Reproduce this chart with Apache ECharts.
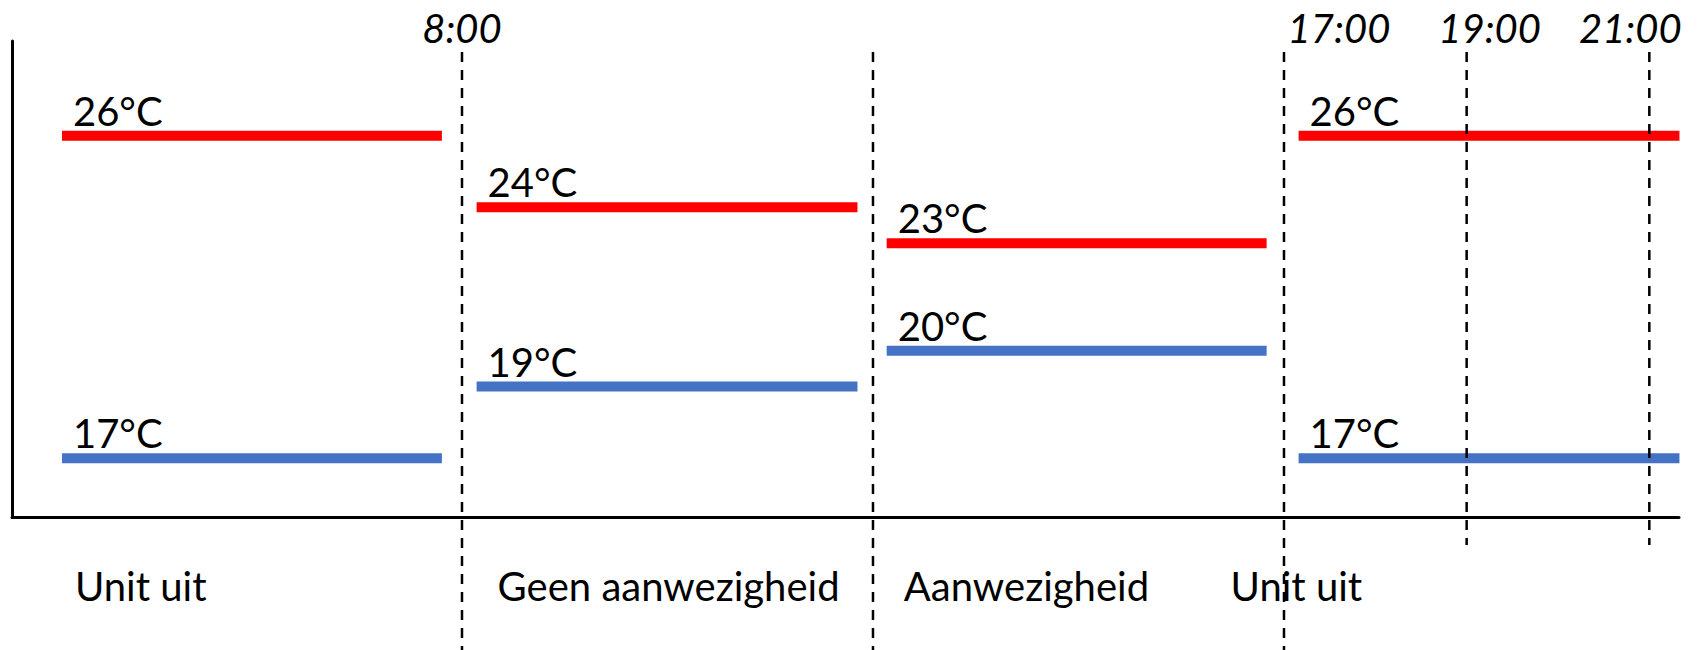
<!DOCTYPE html>
<html>
<head>
<meta charset="utf-8">
<title>Unit uit / aanwezigheid</title>
<script src="https://cdn.jsdelivr.net/npm/echarts@6/dist/echarts.min.js"></script>
<style>
    html, body { margin: 0; padding: 0; background: #ffffff; }
    #chart { width: 1704px; height: 650px; }
</style>
</head>
<body>
<div id="chart"></div>
<script>
// phases of the day
var phaseNames = ['Unit uit', 'Geen aanwezigheid', 'Aanwezigheid', 'Unit uit'];
// each setpoint bar runs from segFrom to segTo (hours)
var segFrom = [3.62, 8.16, 12.65, 17.16];
var segTo = [7.78, 12.33, 16.81, 21.33];
var heatTemps = [26, 24, 23, 26];   // red, upper setpoint
var coolTemps = [17, 19, 20, 17];   // blue, lower setpoint
// dashed time marks
var boundaryHours = [8, 12.5, 17];
var clockHours = [19, 21];
var timeLabelHours = [8, 17, 19, 21];
var timeLabels = ['8:00', '17:00', '19:00', '21:00'];

var FONT = "'Lato', 'Open Sans', sans-serif";
var RED = '#ff0000';
var BLUE = '#4472c4';

// label nudges (px), the source sets them by hand
var timeLabelDx = [0, 55, 23, -19];
var phaseLabelDx = [13, 21, 17, -68];

var chart = echarts.init(document.getElementById('chart'), null, { renderer: 'svg' });

function rows(temps) {
    var out = [];
    for (var i = 0; i < temps.length; i++) {
        out.push([segFrom[i], segTo[i], temps[i]]);
    }
    return out;
}

function segmentSeries(name, temps, color) {
    return {
        name: name,
        type: 'custom',
        data: rows(temps),
        encode: { x: [0, 1], y: 2 },
        z: 2,
        renderItem: function (params, api) {
            var a = api.coord([api.value(0), api.value(2)]);
            var b = api.coord([api.value(1), api.value(2)]);
            return {
                type: 'group',
                children: [{
                    type: 'line',
                    shape: { x1: a[0], y1: a[1], x2: b[0], y2: b[1] },
                    style: { stroke: color, lineWidth: 10, lineCap: 'butt' }
                }, {
                    type: 'text',
                    x: a[0] + 11,
                    y: a[1] - 25,
                    style: {
                        text: api.value(2) + '°C',
                        fill: '#000',
                        font: '40px ' + FONT,
                        align: 'left', verticalAlign: 'middle',
                        textAlign: 'left', textVerticalAlign: 'middle'
                    }
                }]
            };
        }
    };
}

function dashSeries(name, hours, bottom) {
    return {
        name: name,
        type: 'custom',
        data: hours.map(function (h) { return [h]; }),
        encode: { x: 0 },
        z: 5,
        renderItem: function (params, api) {
            var x = api.coord([api.value(0), 20])[0];
            return {
                type: 'line',
                shape: { x1: x, y1: 52, x2: x, y2: bottom },
                style: { stroke: '#000', lineWidth: 2.5, lineDash: [10, 8] }
            };
        }
    };
}

var option = {
    backgroundColor: '#ffffff',
    animation: false,
    grid: { left: 12, right: 25, top: 41, bottom: 133 },
    xAxis: {
        type: 'value',
        min: 3.073,
        max: 21.325,
        axisLine: { show: true, onZero: false, lineStyle: { color: '#000', width: 3 } },
        axisTick: { show: false },
        axisLabel: { show: false },
        splitLine: { show: false }
    },
    yAxis: {
        type: 'value',
        min: 15.36,
        max: 28.64,
        axisLine: { show: true, onZero: false, lineStyle: { color: '#000', width: 3 } },
        axisTick: { show: false },
        axisLabel: { show: false },
        splitLine: { show: false }
    },
    series: [
        segmentSeries('verwarmen', heatTemps, RED),
        segmentSeries('koelen', coolTemps, BLUE),
        dashSeries('fases', boundaryHours, 650),
        dashSeries('klok', clockHours, 545),
        {
            name: 'tijden',
            type: 'custom',
            data: timeLabelHours.map(function (h) { return [h]; }),
            encode: { x: 0 },
            z: 6,
            renderItem: function (params, api) {
                var x = api.coord([api.value(0), 20])[0];
                return {
                    type: 'text',
                    x: x + timeLabelDx[params.dataIndex],
                    y: 28,
                    style: {
                        text: timeLabels[params.dataIndex],
                        fill: '#000',
                        font: 'italic 40px ' + FONT,
                        align: 'center', verticalAlign: 'middle',
                        textAlign: 'center', textVerticalAlign: 'middle'
                    }
                };
            }
        },
        {
            name: 'fasenamen',
            type: 'custom',
            data: segFrom.map(function (h) { return [h]; }),
            encode: { x: 0 },
            z: 6,
            renderItem: function (params, api) {
                var x = api.coord([api.value(0), 20])[0];
                return {
                    type: 'text',
                    x: x + phaseLabelDx[params.dataIndex],
                    y: 586,
                    style: {
                        text: phaseNames[params.dataIndex],
                        fill: '#000',
                        font: '40px ' + FONT,
                        align: 'left', verticalAlign: 'middle',
                        textAlign: 'left', textVerticalAlign: 'middle'
                    }
                };
            }
        }
    ]
};

chart.setOption(option);
</script>
</body>
</html>
